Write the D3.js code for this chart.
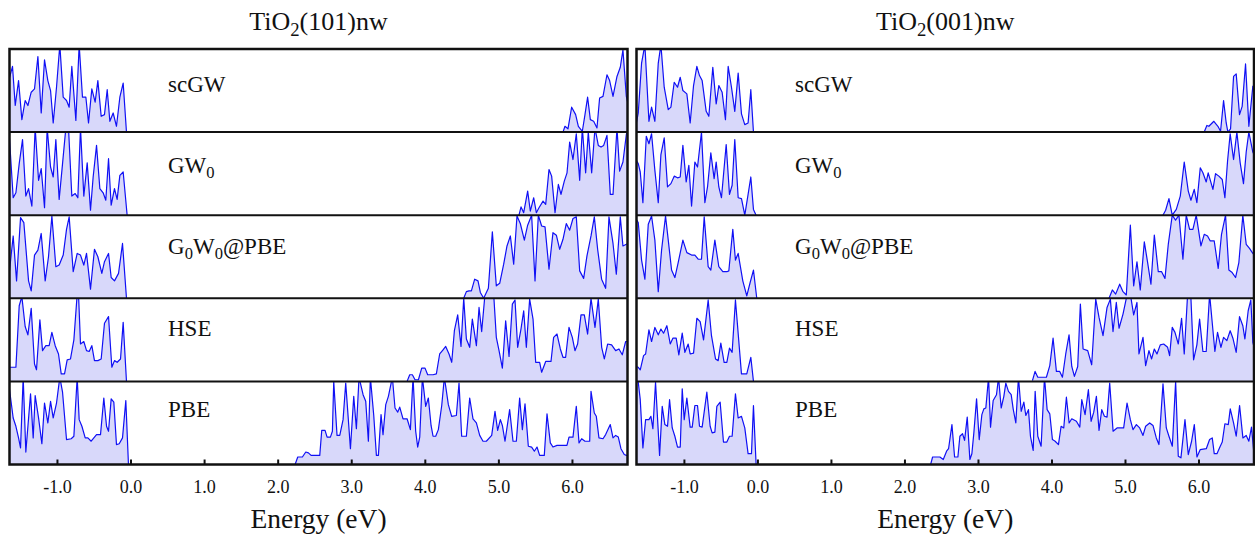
<!DOCTYPE html>
<html><head><meta charset="utf-8">
<script src="https://cdn.jsdelivr.net/npm/d3@7"></script>
<style>body{margin:0;background:#fff}svg{display:block}svg text{font-family:'Liberation Serif','DejaVu Serif',serif}</style>
</head><body>
<svg id="chart" width="1255" height="535"></svg>
<script>
// ---------- DATA ----------
const panelTitles = ["TiO2(101)nw", "TiO2(001)nw"];
const methods = ["scGW", "GW0", "G0W0@PBE", "HSE", "PBE"];
const tickValues = [-1, 0, 1, 2, 3, 4, 5, 6];
const xLabel = "Energy (eV)";
const energyRange = [-1.645, 6.755];

// TiO2(101)nw — valence (vb) and conduction (cb) DOS, [energy eV, relative DOS]
const scGW101_vb = [[-1.649,0.64],[-1.604,0.79],[-1.567,0.32],[-1.522,0.62],[-1.477,0.15],[-1.432,0.38],[-1.395,0.32],[-1.350,0.48],[-1.305,0.52],[-1.259,0.91],[-1.214,0.23],[-1.169,0.87],[-1.124,0.62],[-1.087,0.50],[-1.051,0.11],[-1.006,0.54],[-0.961,1.05],[-0.915,0.42],[-0.870,0.38],[-0.834,0.30],[-0.798,0.79],[-0.743,0.14],[-0.698,1.05],[-0.653,0.42],[-0.607,0.42],[-0.571,0.11],[-0.526,0.52],[-0.481,0.36],[-0.444,0.62],[-0.399,0.19],[-0.354,0.21],[-0.317,0.51],[-0.281,0.13],[-0.236,0.23],[-0.191,0.07],[-0.145,0.42],[-0.100,0.59],[-0.055,0]];
const scGW101_cb = [[5.878,0],[5.905,0.07],[5.946,0.04],[5.996,0.30],[6.050,0.21],[6.087,0.07],[6.141,0.01],[6.177,0.21],[6.213,0.42],[6.250,0.15],[6.295,0.13],[6.340,0.05],[6.376,0.41],[6.422,0.43],[6.476,0.69],[6.512,0.62],[6.558,0.43],[6.612,0.67],[6.657,0.78],[6.693,0.99],[6.739,0.43],[6.76,0.35]];
const GW0101_vb = [[-1.649,0.97],[-1.595,0.21],[-1.558,0.27],[-1.513,0.62],[-1.468,0.91],[-1.423,0.23],[-1.386,0.32],[-1.341,0.11],[-1.296,1.05],[-1.250,0.42],[-1.214,0.56],[-1.169,0.09],[-1.133,1.05],[-1.087,0.58],[-1.051,0.46],[-1.015,0.91],[-0.970,0.19],[-0.924,0.62],[-0.879,1.05],[-0.843,1.05],[-0.798,0.23],[-0.752,0.26],[-0.716,0.21],[-0.680,1.05],[-0.635,0.23],[-0.589,0.63],[-0.544,0.06],[-0.508,0.46],[-0.462,0.84],[-0.417,0.32],[-0.372,0.27],[-0.336,0.18],[-0.299,0.68],[-0.263,0.12],[-0.218,0.32],[-0.182,0.19],[-0.145,0.48],[-0.100,0.52],[-0.046,0]];
const GW0101_cb = [[5.280,0],[5.308,0.10],[5.344,0.03],[5.398,0.29],[5.434,0.05],[5.480,0.21],[5.516,0.03],[5.552,0.09],[5.607,0.17],[5.643,0.13],[5.688,0.55],[5.724,0.47],[5.770,0.03],[5.815,0.37],[5.851,0.25],[5.896,0.41],[5.933,0.51],[5.969,0.88],[6.014,0.67],[6.059,0.98],[6.105,0.42],[6.141,1.05],[6.186,0.51],[6.222,1.0],[6.268,0.51],[6.313,1.05],[6.358,0.84],[6.395,0.82],[6.431,0.84],[6.476,0.96],[6.521,0.25],[6.558,0.25],[6.612,1.05],[6.648,0.53],[6.693,0.64],[6.739,0.97],[6.76,1.05]];
const G0W0101_vb = [[-1.649,0.30],[-1.595,0.75],[-1.549,0.21],[-1.495,0.97],[-1.450,0.91],[-1.386,0.21],[-1.350,0.09],[-1.305,0.52],[-1.259,0.58],[-1.214,0.78],[-1.160,0.21],[-1.115,0.50],[-1.069,0.99],[-1.015,0.38],[-0.970,0.40],[-0.915,0.52],[-0.870,0.83],[-0.834,0.98],[-0.779,0.32],[-0.725,0.54],[-0.680,0.52],[-0.635,0.40],[-0.598,0.54],[-0.544,0.11],[-0.490,0.59],[-0.444,0.50],[-0.390,0.30],[-0.354,0.44],[-0.299,0.54],[-0.263,0.25],[-0.218,0.21],[-0.163,0.30],[-0.109,0.66],[-0.055,0]];
const G0W0101_cb = [[4.529,0],[4.565,0.08],[4.601,0.09],[4.633,0.09],[4.678,0.23],[4.723,0.21],[4.755,0.07],[4.800,0.0],[4.864,0.12],[4.918,0.80],[4.972,0.15],[5.018,0.18],[5.072,0.41],[5.117,0.63],[5.163,0.75],[5.208,0.41],[5.253,0.99],[5.298,0.90],[5.353,0.70],[5.398,0.88],[5.452,1.0],[5.498,0.21],[5.543,1.0],[5.588,0.87],[5.634,0.86],[5.688,0.35],[5.742,0.79],[5.788,0.76],[5.833,0.59],[5.878,0.71],[5.923,0.90],[5.969,0.82],[6.014,0.96],[6.059,0.98],[6.105,0.33],[6.159,0.24],[6.204,0.51],[6.259,0.75],[6.304,0.98],[6.349,0.59],[6.403,0.23],[6.458,0.12],[6.503,0.98],[6.558,0.66],[6.603,0.29],[6.657,0.98],[6.693,0.63],[6.739,0.65],[6.76,0.66]];
const HSE101_vb = [[-1.649,0.17],[-1.558,0.17],[-1.513,0.91],[-1.477,1.02],[-1.432,0.66],[-1.395,0.56],[-1.350,0.88],[-1.305,0.21],[-1.278,0.14],[-1.232,0.74],[-1.196,0.37],[-1.151,0.43],[-1.106,0.43],[-1.069,0.59],[-1.024,0.43],[-0.979,0.33],[-0.942,0.09],[-0.897,0.09],[-0.861,0.26],[-0.816,0.27],[-0.770,0.50],[-0.725,1.05],[-0.707,1.05],[-0.680,0.45],[-0.635,0.48],[-0.598,0.37],[-0.562,0.36],[-0.526,0.43],[-0.490,0.25],[-0.444,0.25],[-0.399,0.27],[-0.354,0.70],[-0.299,0.78],[-0.254,0.17],[-0.218,0.25],[-0.182,0.23],[-0.136,0.27],[-0.100,0.71],[-0.055,0]];
const HSE101_cb = [[3.759,0],[3.795,0.08],[3.831,0.08],[3.867,0.02],[3.913,0.02],[3.958,0.16],[4.003,0.16],[4.039,0.08],[4.112,0.08],[4.157,0.09],[4.202,0.33],[4.248,0.38],[4.284,0.42],[4.329,0.33],[4.366,0.23],[4.402,0.61],[4.447,0.80],[4.492,0.42],[4.529,1.0],[4.565,0.51],[4.610,0.41],[4.646,0.75],[4.701,0.43],[4.737,0.89],[4.773,0.60],[4.818,1.05],[4.846,1.05],[4.909,1.05],[4.936,1.05],[4.972,0.53],[5.009,0.37],[5.054,0.16],[5.099,0.73],[5.145,0.30],[5.190,0.93],[5.226,0.98],[5.262,0.41],[5.307,0.63],[5.344,0.85],[5.380,0.41],[5.425,0.99],[5.471,0.75],[5.507,0.23],[5.561,0.23],[5.588,0.11],[5.643,0.24],[5.715,0.24],[5.751,0.53],[5.797,0.57],[5.842,0.39],[5.878,0.29],[5.914,0.29],[5.960,0.65],[6.005,0.53],[6.041,0.37],[6.077,0.45],[6.123,0.80],[6.168,0.80],[6.213,0.57],[6.259,1.0],[6.313,0.65],[6.358,0.99],[6.404,0.41],[6.440,0.27],[6.485,0.45],[6.539,0.44],[6.594,0.37],[6.639,0.39],[6.684,0.32],[6.730,0.48],[6.76,0.48]];
const PBE101_vb = [[-1.649,0.93],[-1.595,0.56],[-1.558,0.46],[-1.522,0.32],[-1.495,0.20],[-1.459,1.05],[-1.423,0.15],[-1.359,0.85],[-1.323,0.32],[-1.296,0.83],[-1.250,0.56],[-1.205,0.25],[-1.169,0.74],[-1.124,0.50],[-1.087,0.76],[-1.051,0.56],[-1.006,0.74],[-0.961,1.05],[-0.924,0.87],[-0.870,0.30],[-0.807,0.31],[-0.770,0.34],[-0.725,1.05],[-0.698,0.54],[-0.661,0.46],[-0.616,0.32],[-0.580,0.32],[-0.535,0.28],[-0.462,0.36],[-0.408,0.36],[-0.363,0.80],[-0.326,0.46],[-0.299,0.40],[-0.263,0.79],[-0.227,0.75],[-0.191,0.24],[-0.154,0.25],[-0.109,0.32],[-0.064,0.77],[-0.028,0]];
const PBE101_cb = [[2.237,0],[2.273,0.09],[2.336,0.09],[2.382,0.15],[2.418,0.14],[2.454,0.11],[2.572,0.11],[2.599,0.41],[2.644,0.41],[2.672,0.33],[2.717,0.33],[2.744,0.40],[2.762,1.0],[2.807,0.35],[2.844,0.35],[2.889,0.54],[2.925,0.98],[2.989,0.19],[3.034,0.82],[3.070,0.43],[3.106,1.05],[3.161,0.84],[3.197,0.76],[3.233,0.28],[3.260,1.05],[3.306,0.59],[3.342,0.11],[3.369,0.11],[3.405,0.60],[3.432,0.36],[3.469,0.72],[3.505,0.82],[3.559,1.05],[3.595,0.68],[3.632,0.63],[3.659,0.69],[3.704,0.55],[3.759,0.55],[3.804,0.42],[3.840,1.05],[3.876,0.40],[3.903,0.21],[3.931,0.33],[3.967,1.05],[4.012,0.70],[4.048,0.80],[4.085,0.47],[4.112,0.34],[4.148,0.34],[4.184,0.42],[4.230,0.71],[4.266,1.05],[4.320,0.72],[4.365,0.58],[4.429,0.59],[4.465,0.98],[4.501,0.34],[4.565,0.34],[4.610,0.80],[4.655,0.55],[4.701,0.50],[4.746,0.35],[4.791,0.28],[4.836,0.28],[4.909,0.35],[4.954,0.64],[4.990,0.41],[5.027,0.54],[5.054,0.47],[5.090,0.28],[5.153,0.66],[5.199,0.28],[5.244,0.28],[5.289,0.80],[5.326,0.42],[5.362,0.73],[5.407,0.22],[5.452,0.21],[5.489,0.16],[5.525,0.21],[5.561,0.11],[5.624,0.11],[5.661,0.61],[5.706,0.26],[5.742,0.21],[5.797,0.23],[5.932,0.23],[5.960,0.33],[6.014,0.33],[6.059,0.70],[6.096,0.26],[6.132,0.31],[6.177,0.28],[6.241,0.28],[6.259,0.88],[6.304,0.62],[6.331,0.58],[6.367,0.32],[6.422,0.31],[6.458,0.36],[6.521,0.48],[6.558,0.32],[6.594,0.35],[6.630,0.33],[6.666,0.19],[6.711,0.12],[6.739,0.11],[6.76,0.11]];

// TiO2(001)nw
const scGW001_vb = [[-1.649,0.10],[-1.621,0.23],[-1.576,0.83],[-1.531,1.05],[-1.476,0.13],[-1.440,0.30],[-1.395,0.13],[-1.349,0.83],[-1.313,1.05],[-1.268,0.54],[-1.213,0.27],[-1.177,0.30],[-1.132,0.60],[-1.087,0.54],[-1.050,0.66],[-1.014,0.50],[-0.960,0.46],[-0.915,0.11],[-0.869,0.56],[-0.824,0.79],[-0.788,0.68],[-0.752,0.62],[-0.697,0.25],[-0.661,0.19],[-0.607,0.78],[-0.561,0.34],[-0.525,0.56],[-0.480,0.48],[-0.435,0.15],[-0.398,0.79],[-0.353,0.54],[-0.308,0.25],[-0.262,0.71],[-0.217,0.22],[-0.172,0.09],[-0.127,0.11],[-0.090,0.51],[-0.054,0]];
const scGW001_cb = [[6.075,0],[6.082,0.01],[6.114,0.08],[6.141,0.07],[6.209,0.13],[6.264,0.07],[6.300,0.01],[6.341,0.38],[6.377,0.11],[6.400,0.0],[6.436,0.04],[6.477,0.67],[6.513,0.70],[6.558,0.21],[6.594,0.31],[6.640,0.82],[6.685,0.07],[6.739,0.55],[6.76,0.56]];
const GW0001_vb = [[-1.649,0.66],[-1.621,0.62],[-1.594,0.52],[-1.558,0.15],[-1.512,0.95],[-1.476,0.86],[-1.440,0.98],[-1.395,0.54],[-1.349,0.15],[-1.313,0.73],[-1.268,0.93],[-1.223,0.34],[-1.177,0.38],[-1.132,0.47],[-1.087,0.45],[-1.050,0.46],[-1.014,0.84],[-0.969,0.40],[-0.933,0.60],[-0.896,0.11],[-0.851,0.64],[-0.815,0.58],[-0.761,1.0],[-0.715,0.15],[-0.679,0.34],[-0.634,0.75],[-0.589,0.44],[-0.561,0.64],[-0.525,0.34],[-0.489,0.21],[-0.425,0.85],[-0.380,0.25],[-0.344,0.36],[-0.308,0.91],[-0.262,0.21],[-0.217,0.20],[-0.172,0.0],[-0.127,0.25],[-0.090,0.46],[-0.054,0.07],[-0.018,0]];
const GW0001_cb = [[5.516,0],[5.553,0.06],[5.598,0.20],[5.643,0],[5.698,0.07],[5.752,0.23],[5.806,0.64],[5.861,0.29],[5.897,0.18],[5.942,0.31],[5.978,0.15],[6.024,0.57],[6.060,0.51],[6.105,0.40],[6.132,0.51],[6.196,0.31],[6.232,0.50],[6.277,0.47],[6.323,0.43],[6.359,0.21],[6.395,0.65],[6.431,0.98],[6.477,0.67],[6.522,1.0],[6.567,0.63],[6.612,0.38],[6.649,0.76],[6.685,1.0],[6.739,0.76],[6.76,0.72]];
const G0W0001_vb = [[-1.649,0.95],[-1.621,0.91],[-1.576,0.46],[-1.531,0.23],[-1.485,0.89],[-1.440,0.99],[-1.395,0.70],[-1.349,0.08],[-1.304,0.58],[-1.250,0.99],[-1.213,0.70],[-1.168,0.34],[-1.123,0.25],[-1.078,0.43],[-1.014,0.70],[-0.960,0.55],[-0.896,0.52],[-0.851,0.52],[-0.806,0.47],[-0.761,0.47],[-0.724,0.98],[-0.670,0.38],[-0.634,0.34],[-0.579,0.70],[-0.525,0.38],[-0.471,0.32],[-0.416,0.32],[-0.389,0.33],[-0.335,0.83],[-0.299,0.46],[-0.262,0.54],[-0.199,0.21],[-0.145,0.03],[-0.099,0.19],[-0.054,0.34],[-0.009,0]];
const G0W0001_cb = [[4.783,0],[4.828,0.10],[4.873,0.05],[4.928,0.17],[4.973,0.08],[5.018,0.04],[5.073,0.88],[5.118,0.15],[5.163,0.44],[5.208,0.10],[5.263,0.68],[5.308,0.43],[5.353,0.17],[5.399,0.76],[5.453,0.32],[5.498,0.32],[5.544,0.24],[5.589,0.65],[5.643,1.0],[5.688,0.94],[5.734,1.0],[5.788,0.47],[5.833,1.0],[5.879,0.83],[5.924,0.83],[5.969,1.0],[6.033,0.63],[6.078,0.77],[6.123,0.75],[6.160,0.69],[6.214,0.69],[6.268,0.36],[6.313,0.77],[6.368,1.0],[6.413,0.34],[6.458,0.31],[6.504,0.25],[6.549,0.43],[6.603,1.0],[6.649,0.65],[6.694,0.60],[6.739,0.54],[6.76,0.52]];
const HSE001_vb = [[-1.649,0.18],[-1.621,0.17],[-1.594,0.14],[-1.549,0.31],[-1.521,0.33],[-1.476,0.62],[-1.440,0.48],[-1.395,0.65],[-1.349,0.56],[-1.313,0.63],[-1.277,0.58],[-1.232,0.67],[-1.186,0.45],[-1.150,0.52],[-1.105,0.52],[-1.069,0.32],[-1.023,0.58],[-0.987,0.35],[-0.942,0.45],[-0.915,0.33],[-0.869,0.34],[-0.824,0.76],[-0.779,0.72],[-0.733,0.50],[-0.670,0.98],[-0.625,0.55],[-0.570,0.27],[-0.534,0.25],[-0.498,0.46],[-0.453,0.23],[-0.416,0.23],[-0.380,0.40],[-0.344,0.35],[-0.299,0.98],[-0.217,0.09],[-0.145,0.09],[-0.090,0.29],[-0.054,0]];
const HSE001_cb = [[3.741,0.01],[3.777,0.12],[3.814,0.05],[3.931,0.05],[3.977,0.19],[4.022,0.52],[4.067,0.12],[4.112,0.12],[4.149,0.05],[4.194,0.33],[4.239,0.56],[4.276,0.18],[4.312,0.06],[4.357,0.18],[4.393,0.93],[4.430,0.39],[4.493,0.37],[4.547,0.20],[4.602,0.99],[4.647,0.77],[4.701,0.55],[4.756,0.89],[4.801,0.99],[4.837,0.60],[4.882,0.95],[4.919,0.64],[4.973,0.81],[5.018,1.0],[5.073,1.05],[5.118,0.80],[5.163,0.95],[5.190,0.33],[5.245,0.53],[5.281,0.19],[5.326,0.37],[5.362,0.27],[5.399,0.39],[5.435,0.33],[5.480,0.44],[5.526,0.45],[5.580,0.41],[5.607,0.31],[5.643,0.65],[5.680,0.59],[5.725,0.45],[5.770,0.76],[5.806,0.33],[5.852,1.05],[5.897,1.0],[5.933,0.26],[5.978,0.44],[6.015,0.75],[6.060,0.36],[6.105,0.36],[6.151,1.05],[6.223,0.36],[6.259,0.59],[6.305,0.41],[6.341,0.53],[6.386,0.49],[6.431,0.61],[6.468,0.52],[6.513,0.35],[6.558,0.78],[6.603,0.67],[6.631,0.51],[6.676,0.85],[6.712,0.98],[6.739,0.47],[6.76,0.40]];
const PBE001_vb = [[-1.649,1.05],[-1.621,0.99],[-1.594,0.78],[-1.558,0.20],[-1.521,0.54],[-1.476,0.54],[-1.449,0.58],[-1.422,0.43],[-1.386,0.99],[-1.331,0.11],[-1.295,0.70],[-1.259,0.48],[-1.223,0.46],[-1.195,0.78],[-1.159,0.44],[-1.123,0.34],[-1.087,0.21],[-1.050,0.21],[-1.023,0.91],[-0.996,0.54],[-0.960,0.80],[-0.915,0.45],[-0.887,0.45],[-0.851,0.71],[-0.815,0.71],[-0.788,0.46],[-0.752,0.45],[-0.688,0.87],[-0.643,0.46],[-0.616,0.38],[-0.579,0.39],[-0.552,0.70],[-0.507,0.75],[-0.462,0.27],[-0.416,0.27],[-0.380,0.34],[-0.344,0.34],[-0.299,0.85],[-0.262,0.56],[-0.217,0.58],[-0.172,0.44],[-0.127,0.13],[-0.081,0.13],[-0.054,0.71],[-0.018,0]];
const PBE001_cb = [[2.356,0],[2.383,0.09],[2.482,0.09],[2.528,0.06],[2.573,0.16],[2.600,0.19],[2.646,0.48],[2.682,0.09],[2.727,0.09],[2.754,0.34],[2.790,0.37],[2.818,0.29],[2.854,0.57],[2.890,0.06],[2.917,0.13],[2.944,0.38],[2.981,0.79],[3.017,0.30],[3.053,0.60],[3.080,0.67],[3.107,0.68],[3.144,1.05],[3.171,0.45],[3.207,0.77],[3.252,0.84],[3.280,1.05],[3.316,0.68],[3.352,0.82],[3.379,0.98],[3.415,0.88],[3.452,0.84],[3.479,0.67],[3.515,0.50],[3.551,1.05],[3.588,0.64],[3.624,0.75],[3.651,0.59],[3.687,0.66],[3.714,0.34],[3.751,0.17],[3.778,0.88],[3.814,0.34],[3.859,0.22],[3.905,1.05],[3.941,0.66],[3.977,0.61],[4.013,0.30],[4.050,0.28],[4.095,0.24],[4.131,0.46],[4.167,0.44],[4.203,0.81],[4.240,0.50],[4.276,0.55],[4.339,0.52],[4.385,0.45],[4.412,0.78],[4.457,0.60],[4.502,0.90],[4.539,0.52],[4.575,0.63],[4.611,0.82],[4.647,0.41],[4.684,0.66],[4.720,0.58],[4.756,0.57],[4.792,0.98],[4.838,0.40],[4.892,0.44],[4.982,0.44],[5.028,0.74],[5.073,0.54],[5.109,0.42],[5.155,0.48],[5.200,0.44],[5.245,0.35],[5.281,0.46],[5.336,0.50],[5.381,0.47],[5.426,0.32],[5.462,0.24],[5.517,0.97],[5.562,0.44],[5.598,0.34],[5.644,0.22],[5.689,1.0],[5.725,0.10],[5.761,0.08],[5.816,0.54],[5.861,0.12],[5.906,0.28],[5.943,0.48],[5.979,0.09],[6.024,0.18],[6.106,0.19],[6.151,0.30],[6.187,0.32],[6.214,0.13],[6.251,0.13],[6.296,0.22],[6.323,0.27],[6.359,0.49],[6.405,0.48],[6.432,0.67],[6.477,0.50],[6.513,0.34],[6.559,0.71],[6.604,0.32],[6.649,0.35],[6.685,0.28],[6.721,0.45],[6.749,0.18],[6.76,0.18]];

const panelSeries = [
  [[scGW101_vb, scGW101_cb], [GW0101_vb, GW0101_cb], [G0W0101_vb, G0W0101_cb], [HSE101_vb, HSE101_cb], [PBE101_vb, PBE101_cb]],
  [[scGW001_vb, scGW001_cb], [GW0001_vb, GW0001_cb], [G0W0001_vb, G0W0001_cb], [HSE001_vb, HSE001_cb], [PBE001_vb, PBE001_cb]]
];

// ---------- LAYOUT ----------
const svg = d3.select("#chart");
const panelX = [[9.5, 627.5], [636.5, 1254]];
const plotTop = 49, plotBottom = 464.5;
const rowH = (plotBottom - plotTop) / methods.length;
const lineColor = "#1010f5", fillColor = "#d8d8fa";
const serif = "'Liberation Serif', 'DejaVu Serif', serif";

function addRich(sel, str, fs) {
  const parts = [];
  if (str.startsWith("TiO2")) { parts.push(["TiO", false], ["2", true], [str.slice(4), false]); }
  else if (str === "GW0") { parts.push(["GW", false], ["0", true]); }
  else if (str === "G0W0@PBE") { parts.push(["G", false], ["0", true], ["W", false], ["0", true], ["@PBE", false]); }
  else parts.push([str, false]);
  let sub = false;
  parts.forEach(([t, s]) => {
    const ts = sel.append("tspan").text(t);
    if (s && !sub) { ts.attr("dy", fs * 0.22).attr("font-size", fs * 0.72); sub = true; }
    else if (s && sub) { ts.attr("font-size", fs * 0.72); }
    else if (!s && sub) { ts.attr("dy", -fs * 0.22); sub = false; }
  });
}

panelSeries.forEach((rows, p) => {
  const [x0, x1] = panelX[p];
  const x = d3.scaleLinear().domain(energyRange).range([x0, x1]);
  const g = svg.append("g");

  rows.forEach((segs, r) => {
    const rt = plotTop + r * rowH, rb = rt + rowH;
    const y = d3.scaleLinear().domain([0, 1]).range([rb, rt]);
    const cid = `clip-${p}-${r}`;
    svg.append("clipPath").attr("id", cid).append("rect")
      .attr("x", x0).attr("y", rt).attr("width", x1 - x0).attr("height", rowH);
    const rg = g.append("g").attr("clip-path", `url(#${cid})`);
    const area = d3.area().x(d => x(d[0])).y0(rb).y1(d => y(d[1]));
    const line = d3.line().x(d => x(d[0])).y(d => y(d[1]));
    segs.forEach(seg => {
      rg.append("path").datum(seg).attr("d", area).attr("fill", fillColor);
      rg.append("path").datum(seg).attr("d", line).attr("fill", "none")
        .attr("stroke", lineColor).attr("stroke-width", 1.2).attr("stroke-linejoin", "round");
    });
    const t = g.append("text").attr("x", x0 + 158.5).attr("y", 91.6 + r * 81.3)
      .style("font-family", serif).attr("font-size", 23).attr("fill", "#111");
    addRich(t, methods[r], 23);
    if (r > 0) {
      g.append("line").attr("x1", x0).attr("x2", x1).attr("y1", rt).attr("y2", rt)
        .attr("stroke", "#111").attr("stroke-width", 2);
    }
  });

  const ax = d3.axisBottom(x).tickValues(tickValues).tickSizeInner(-5).tickSizeOuter(0)
    .tickPadding(16).tickFormat(d => d.toFixed(1));
  const axg = g.append("g").attr("transform", `translate(0,${plotBottom})`).call(ax);
  axg.attr("font-family", null);
  axg.select(".domain").remove();
  axg.selectAll(".tick line").attr("stroke", "#111").attr("stroke-width", 2);
  axg.selectAll(".tick text").style("font-family", serif).attr("font-size", 18).attr("fill", "#111");

  g.append("rect").attr("x", x0).attr("y", plotTop).attr("width", x1 - x0).attr("height", plotBottom - plotTop)
    .attr("fill", "none").attr("stroke", "#111").attr("stroke-width", 2.5);

  const cx = (x0 + x1) / 2;
  const tt = g.append("text").attr("x", cx).attr("y", 30).attr("text-anchor", "middle")
    .style("font-family", serif).attr("font-size", 26).attr("fill", "#111");
  addRich(tt, panelTitles[p], 26);
  g.append("text").attr("x", cx).attr("y", 528).attr("text-anchor", "middle")
    .style("font-family", serif).attr("font-size", 27.5).attr("fill", "#111").text(xLabel);
});
</script>
</body></html>
